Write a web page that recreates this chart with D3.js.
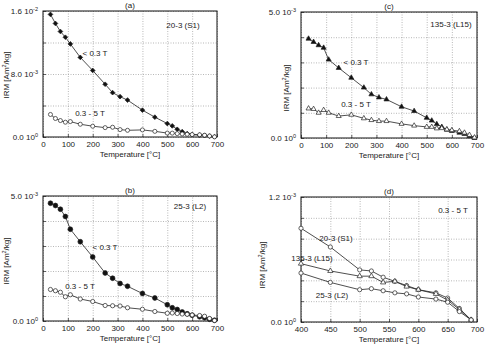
<!DOCTYPE html>
<html>
<head>
<meta charset="utf-8">
<script src="https://cdn.jsdelivr.net/npm/d3@7"></script>
<style>
body { margin: 0; background: #fff; }
text { font-family: "Liberation Sans", Arial, sans-serif; fill: #1a1a1a; }
.grid line { stroke: #999; stroke-dasharray: 1,1.5; stroke-width: 0.7; }
.grid path { display: none; }
.axis path { display: none; }
.axis line { stroke: #222; stroke-width: 0.7; }
</style>
</head>
<body>
<svg id="chart" width="488" height="346"></svg>
<script>
// demagnetization steps [°C]
var temps = [30, 50, 70, 90, 110, 150, 200, 250, 280, 310, 340, 400, 450, 500, 520, 540, 560, 580, 600, 630, 650, 670, 690];

// IRM values in 1e-3 Am2/kg
var s1_soft  = [15.57, 14.42, 13.4, 12.67, 11.82, 10.11, 8.45, 6.7, 5.63, 5.12, 4.69, 3.41, 2.52, 1.71, 1.41, 0.98, 0.68, 0.43, 0.3, 0.25, 0.2, 0.12, 0.03];
var s1_hard  = [2.86, 2.35, 2.09, 1.88, 1.96, 1.62, 1.37, 1.19, 1.24, 0.94, 0.85, 0.90, 0.72, 0.50, 0.49, 0.43, 0.39, 0.35, 0.31, 0.28, 0.23, 0.13, 0.02];
var l2_soft  = [4.71, 4.62, 4.47, 4.18, 3.67, 3.17, 2.56, 1.92, 1.71, 1.50, 1.39, 1.10, 0.92, 0.65, 0.53, 0.46, 0.36, 0.29, 0.23, 0.17, 0.13, 0.07, 0.03];
var l2_hard  = [1.26, 1.21, 1.15, 0.97, 1.05, 0.88, 0.78, 0.62, 0.61, 0.60, 0.53, 0.47, 0.38, 0.31, 0.32, 0.30, 0.28, 0.27, 0.24, 0.22, 0.19, 0.10, 0.02];
var l15_soft = [3.94, 3.81, 3.68, 3.58, 3.11, 2.78, 2.39, 2.00, 1.73, 1.61, 1.53, 1.24, 1.07, 0.80, 0.69, 0.55, 0.44, 0.33, 0.28, 0.21, 0.16, 0.07, 0.0];
var l15_hard = [1.17, 1.15, 1.00, 1.11, 1.00, 0.87, 0.92, 0.78, 0.71, 0.67, 0.67, 0.56, 0.49, 0.44, 0.44, 0.38, 0.39, 0.34, 0.31, 0.27, 0.21, 0.12, 0.02];

// y tick labels: [value, mantissa, exponent]
var yticks_a = [[0, '0.0', '0'], [8, '8.0', '-3'], [16, '1.6', '-2']];
var yticks_bc = [[0, '0.0', '0'], [5, '5.0', '-3']];
var yticks_d = [[0, '0.0', '0'], [1.2, '1.2', '-3']];

var svg = d3.select('#chart');

var pair = function(xs, ys) {
    return xs.map(function(t, i) { return {t: t, v: ys[i]}; });
};

var draw_panel = function(p) {
    var sx = d3.scaleLinear().domain(p.xdomain).range([p.x0, p.x1]);
    var sy = d3.scaleLinear().domain(p.ydomain).range([p.y1, p.y0]);
    var h = p.y1 - p.y0, w = p.x1 - p.x0;
    var g = svg.append('g');

    // gridlines
    g.append('g').attr('class', 'grid')
        .attr('transform', 'translate(0,' + p.y1 + ')')
        .call(d3.axisBottom(sx).tickValues(p.xgrid).tickSize(-h).tickFormat(''));
    g.append('g').attr('class', 'grid')
        .attr('transform', 'translate(' + p.x0 + ',0)')
        .call(d3.axisLeft(sy).tickValues(p.ygrid).tickSize(-w).tickFormat(''));

    // x axis labels + inward ticks
    g.append('g').attr('class', 'axis')
        .attr('transform', 'translate(0,' + p.y1 + ')')
        .call(d3.axisBottom(sx).tickValues(p.xgrid).tickSizeInner(-3).tickSizeOuter(0).tickPadding(4))
        .selectAll('text').attr('font-size', 8).attr('font-family', '"Liberation Sans", Arial, sans-serif');

    // y axis
    g.append('g').attr('class', 'axis')
        .attr('transform', 'translate(' + p.x0 + ',0)')
        .call(d3.axisLeft(sy).tickValues(p.ygrid).tickSizeInner(-3).tickSizeOuter(0).tickFormat(''));
    p.yticks.forEach(function(tk) {
        var t = g.append('text')
            .attr('x', p.x0 - 5)
            .attr('y', sy(tk[0]) + 3)
            .attr('text-anchor', 'end')
            .attr('font-size', 8);
        t.append('tspan').text(tk[1] + ' 10');
        t.append('tspan').attr('dy', -3).attr('font-size', 5.5).text(tk[2]);
    });

    // frame
    g.append('rect')
        .attr('x', p.x0).attr('y', p.y0)
        .attr('width', w).attr('height', h)
        .attr('fill', 'none').attr('stroke', '#111').attr('stroke-width', 1);

    // series
    var line = d3.line().x(function(d) { return sx(d.t); }).y(function(d) { return sy(d.v); });
    p.series.forEach(function(s) {
        g.append('path')
            .datum(s.data)
            .attr('d', line)
            .attr('fill', 'none')
            .attr('stroke', '#222')
            .attr('stroke-width', 0.8);
        g.selectAll(null)
            .data(s.data)
            .enter()
          .append('path')
            .attr('transform', function(d) {
                return 'translate(' + sx(d.t) + ',' + sy(d.v) + ')' + (s.rotate ? ' rotate(45)' : '');
            })
            .attr('d', d3.symbol().type(s.symbol).size(s.size))
            .attr('fill', s.filled ? '#111' : '#fff')
            .attr('stroke', '#222')
            .attr('stroke-width', 0.7);
    });

    // texts
    g.append('text').attr('x', (p.x0 + p.x1) / 2).attr('y', p.y0 - 3)
        .attr('text-anchor', 'middle').attr('font-size', 8).text(p.title);
    g.append('text').attr('x', (p.x0 + p.x1) / 2).attr('y', p.y1 + 20)
        .attr('text-anchor', 'middle').attr('font-size', 8).text('Temperature [°C]');
    var yl = g.append('text')
        .attr('transform', 'translate(' + (p.ylab[0] + 3) + ',' + p.ylab[1] + ') rotate(-90)')
        .attr('text-anchor', 'middle').attr('font-size', 8);
    yl.append('tspan').text('IRM [Am');
    yl.append('tspan').attr('dy', -3).attr('font-size', 5.5).text('2');
    yl.append('tspan').attr('dy', 3).text('/kg]');
    p.labels.forEach(function(l) {
        g.append('text').attr('x', l[0]).attr('y', l[1] + 3)
            .attr('text-anchor', 'middle').attr('font-size', 8).text(l[2]);
    });
};

var full_x = [0, 100, 200, 300, 400, 500, 600, 700];

draw_panel({
    title: '(a)', x0: 43, x1: 217, y0: 11, y1: 137,
    xdomain: [0, 700], ydomain: [0, 16], xgrid: full_x, ygrid: [0, 4, 8, 12, 16],
    yticks: yticks_a, ylab: [6, 75],
    labels: [[183, 25, '20-3 (S1)'], [95, 53, '< 0.3 T'], [90, 113, '0.3 - 5 T']],
    series: [
        {data: pair(temps, s1_soft), symbol: d3.symbolSquare, size: 11, filled: true, rotate: true},
        {data: pair(temps, s1_hard), symbol: d3.symbolCircle, size: 13, filled: false}
    ]
});

draw_panel({
    title: '(b)', x0: 43, x1: 217, y0: 196, y1: 321,
    xdomain: [0, 700], ydomain: [0, 5], xgrid: full_x, ygrid: [0, 1, 2, 3, 4, 5],
    yticks: yticks_bc, ylab: [6, 261],
    labels: [[190, 206, '25-3 (L2)'], [105, 247, '< 0.3 T'], [80, 286, '0.3 - 5 T']],
    series: [
        {data: pair(temps, l2_soft), symbol: d3.symbolCircle, size: 18, filled: true},
        {data: pair(temps, l2_hard), symbol: d3.symbolCircle, size: 14, filled: false}
    ]
});

draw_panel({
    title: '(c)', x0: 301, x1: 477, y0: 12, y1: 138,
    xdomain: [0, 700], ydomain: [0, 5], xgrid: full_x, ygrid: [0, 1, 2, 3, 4, 5],
    yticks: yticks_bc, ylab: [286, 88],
    labels: [[451, 24, '135-3 (L15)'], [356, 62, '< 0.3 T'], [356, 104, '0.3 - 5 T']],
    series: [
        {data: pair(temps, l15_soft), symbol: d3.symbolTriangle, size: 11, filled: true},
        {data: pair(temps, l15_hard), symbol: d3.symbolTriangle, size: 11, filled: false}
    ]
});

var hi = temps.slice(11);
draw_panel({
    title: '(d)', x0: 301, x1: 477, y0: 197, y1: 322,
    xdomain: [400, 700], ydomain: [0, 1.2], xgrid: [400, 450, 500, 550, 600, 650, 700],
    ygrid: [0, 0.2, 0.4, 0.6, 0.8, 1.0, 1.2],
    yticks: yticks_d, ylab: [262, 265],
    labels: [[453, 210, '0.3 - 5 T'], [336, 238, '20-3 (S1)'], [312, 258, '135-3 (L15)'], [332, 295, '25-3 (L2)']],
    series: [
        {data: pair(hi, s1_hard.slice(11)), symbol: d3.symbolCircle, size: 14, filled: false},
        {data: pair(hi, l15_hard.slice(11)), symbol: d3.symbolTriangle, size: 12, filled: false},
        {data: pair(hi, l2_hard.slice(11)), symbol: d3.symbolCircle, size: 14, filled: false}
    ]
});
</script>
</body>
</html>
